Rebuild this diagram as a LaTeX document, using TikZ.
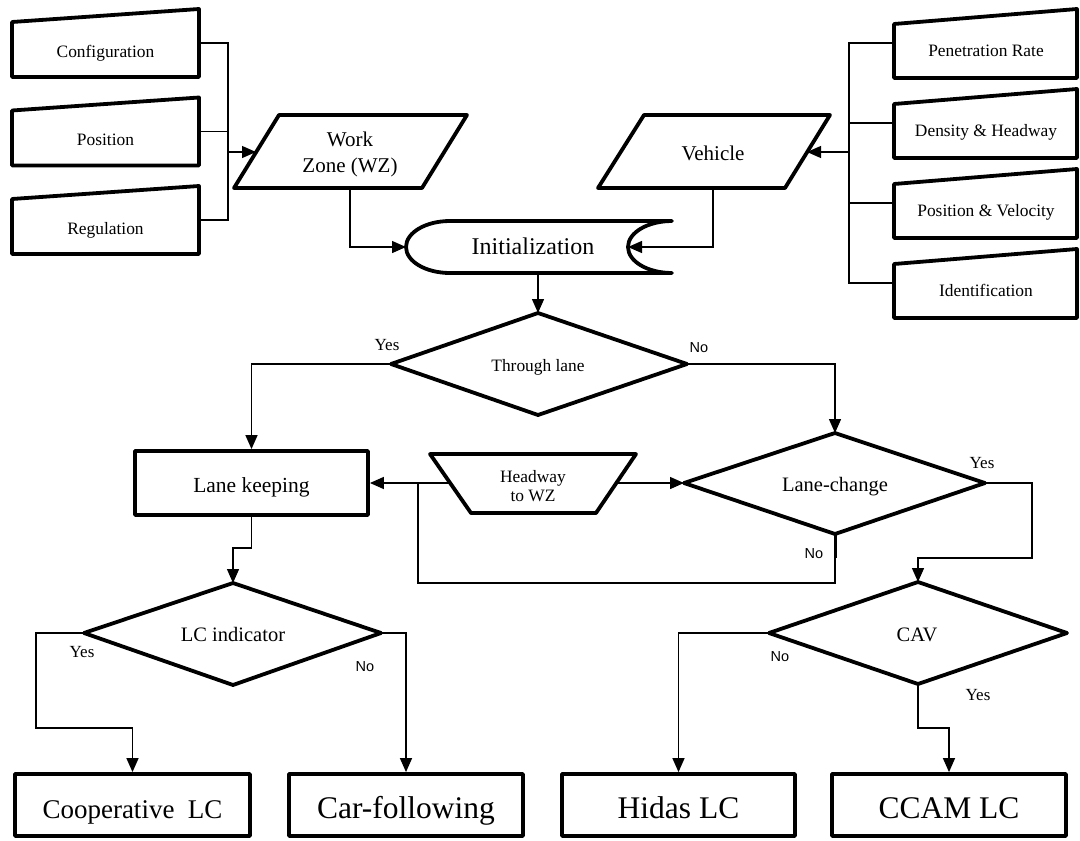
\documentclass[tikz,border=0pt]{standalone}
\usepackage{fontspec}
\setmainfont{Liberation Serif}
\newfontfamily\labsans{Liberation Sans}
\usetikzlibrary{arrows.meta}
\begin{document}
\begin{tikzpicture}[x=1pt,y=-1pt,
  outline/.style={line width=3.8pt,line join=round},
  wire/.style={line width=1.4pt},
  feed/.style={line width=1.2pt},
  arr/.style={wire,-{Triangle[length=14pt,width=12pt]}},
  feedarr/.style={feed,-{Triangle[length=14pt,width=12pt]}},
  lbl/.style={anchor=base,inner sep=0pt},
  yes/.style={lbl,font=\fontsize{17}{20}\selectfont},
  no/.style={lbl,font=\labsans\fontsize{14.5}{17}\selectfont},
  smalltxt/.style={lbl,font=\fontsize{17.4}{21}\selectfont},
  midtxt/.style={lbl,font=\fontsize{20.5}{25}\selectfont},
  procbox/.style={draw,outline,rectangle,inner sep=0pt,text depth=0pt},
  endbox/.style={procbox,minimum height=62pt,text height=26pt,font=\fontsize{31.5}{36}\selectfont},
]
\useasboundingbox (0,0) rectangle (1080,841);

% ---------- work-zone parameters (manual input) ----------
\foreach \o/\t/\n in {0/Configuration/conf,88.5/Position/pos,177/Regulation/reg}{
  \draw[outline] (12,{22+\o}) -- (199,{9+\o}) -- (199,{77+\o}) -- (12,{77+\o}) -- cycle;
  \node[smalltxt] (\n) at (105.5,{57+\o}) {\t};
  \coordinate (\n-e) at (199,{43+\o});
}

% ---------- vehicle parameters (manual input) ----------
\foreach \o/\t/\n in {0/Penetration Rate/pen,80/Density \& Headway/dens,160/Position \& Velocity/posvel,240/Identification/ident}{
  \draw[outline] (894,{24+\o}) -- (1077,{9+\o}) -- (1077,{78+\o}) -- (894,{78+\o}) -- cycle;
  \node[smalltxt] (\n) at (986,{56+\o}) {\t};
  \coordinate (\n-w) at (894,{43+\o});
}

% ---------- data inputs ----------
\draw[outline] (279,115) -- (467,115) -- (422,188) -- (234,188) -- cycle;
\node[font=\fontsize{21}{26}\selectfont,align=center,inner sep=0pt] (wz) at (350,154) {Work\\Zone (WZ)};
\coordinate (wz-w) at (256,152);
\coordinate (wz-s) at (350,188);

\draw[outline] (644,115) -- (830,115) -- (785,188) -- (598,188) -- cycle;
\node[lbl,font=\fontsize{21}{26}\selectfont] (veh) at (713,160) {Vehicle};
\coordinate (veh-e) at (807,152);
\coordinate (veh-s) at (713,188);

% ---------- initialization (stored data) ----------
\draw[outline] (450,221) -- (672,221)
  .. controls (647.7,221) and (628,232.6) .. (628,247)
  .. controls (628,261.4) and (647.7,273) .. (672,273)
  -- (450,273)
  .. controls (425.7,273) and (406,261.4) .. (406,247)
  .. controls (406,232.6) and (425.7,221) .. (450,221) -- cycle;
\node[lbl,font=\fontsize{24}{29}\selectfont] (init) at (533,254) {Initialization};
\coordinate (init-w) at (406,247);
\coordinate (init-e) at (628,247);
\coordinate (init-s) at (538,273);

% ---------- decisions ----------
\coordinate (thr-n) at (538,313); \coordinate (thr-e) at (687,364);
\coordinate (thr-s) at (538,415); \coordinate (thr-w) at (391,364);
\draw[outline] (thr-n) -- (thr-e) -- (thr-s) -- (thr-w) -- cycle;
\node[smalltxt] (thr) at (538,371) {Through lane};

\coordinate (lc-n) at (835,433); \coordinate (lc-e) at (985,483);
\coordinate (lc-s) at (835,534); \coordinate (lc-w) at (684,483);
\draw[outline] (lc-n) -- (lc-e) -- (lc-s) -- (lc-w) -- cycle;
\node[midtxt] (lc) at (835,491) {Lane-change};

\coordinate (lci-n) at (233,583); \coordinate (lci-e) at (381,633);
\coordinate (lci-s) at (233,685); \coordinate (lci-w) at (84,633);
\draw[outline] (lci-n) -- (lci-e) -- (lci-s) -- (lci-w) -- cycle;
\node[midtxt] (lci) at (233,641) {LC indicator};

\coordinate (cav-n) at (918,582); \coordinate (cav-e) at (1067,633);
\coordinate (cav-s) at (918,684); \coordinate (cav-w) at (769,633);
\draw[outline] (cav-n) -- (cav-e) -- (cav-s) -- (cav-w) -- cycle;
\node[midtxt] (cav) at (917,641) {CAV};

% ---------- headway to work zone ----------
\draw[outline] (430,454) -- (636,454) -- (596,513) -- (471,513) -- cycle;
\node[font=\fontsize{17.4}{19.5}\selectfont,align=center,inner sep=0pt] (hw) at (533,486) {Headway\\to WZ};
\coordinate (hw-w) at (450,483);
\coordinate (hw-e) at (616,483);

% ---------- processes ----------
\node[procbox,minimum width=233pt,minimum height=64pt,text height=18pt,font=\fontsize{21.5}{26}\selectfont] (lk) at (251.5,483) {Lane keeping};
\node[endbox,minimum width=235pt,font=\fontsize{27}{32}\selectfont] (coop) at (132.5,805) {Cooperative\ \ LC};
\node[endbox,minimum width=234pt] (carf) at (406,805) {Car-following};
\node[endbox,minimum width=233pt] (hidas) at (678.5,805) {Hidas LC};
\node[endbox,minimum width=234pt] (ccam) at (949,805) {CCAM LC};

% ---------- connectors ----------
\coordinate (lbus) at (228,152);
\draw[feed] (conf-e) -| (lbus) (pos-e) -| (lbus) (reg-e) -| (lbus);
\draw[feedarr] (lbus) -- (wz-w);

\coordinate (rbus) at (849,152);
\draw[feed] (pen-w) -| (rbus) (dens-w) -| (rbus) (posvel-w) -| (rbus) (ident-w) -| (rbus);
\draw[feedarr] (rbus) -- (veh-e);

\draw[arr] (wz-s) |- (init-w);
\draw[arr] (veh-s) |- (init-e);
\draw[arr] (init-s) -- (thr-n);

\draw[arr] (thr-w) -| (lk.north);
\draw[arr] (thr-e) -| (lc-n);

\draw[arr] (hw-w) -- (lk.east);
\draw[arr] (hw-e) -- (lc-w);

\coordinate (loopc) at (418,583);
\coordinate (lkjoin) at (418,483);
\draw[wire] (lc-s) |- (loopc) -- (lkjoin);
\draw[line width=3pt] (lc-s) -- ++(0,24);

\coordinate (lcturn) at (1032,558);
\draw[arr] (lc-e) -| (lcturn) -| (cav-n);

\coordinate (lkjog) at (233,548);
\draw[arr] (lk.south) |- (lkjog) -- (lci-n);

\coordinate (lciturn) at (36,728);
\draw[arr] (lci-w) -| (lciturn) -| (coop.north);
\draw[arr] (lci-e) -| (carf.north);

\draw[arr] (cav-w) -| (hidas.north);
\coordinate (cavjog) at (918,728);
\draw[arr] (cav-s) -- (cavjog) -| (ccam.north);

% ---------- branch labels ----------
\node[yes] (thr-yes) at (387,350) {Yes};
\node[no] (thr-no) at (699,352) {No};
\node[yes] (lc-yes) at (982,468) {Yes};
\node[no] (lc-no) at (814,558) {No};
\node[yes] (lci-yes) at (82,657) {Yes};
\node[no] (lci-no) at (365,671) {No};
\node[no] (cav-no) at (780,661) {No};
\node[yes] (cav-yes) at (978,700) {Yes};
\end{tikzpicture}
\end{document}
